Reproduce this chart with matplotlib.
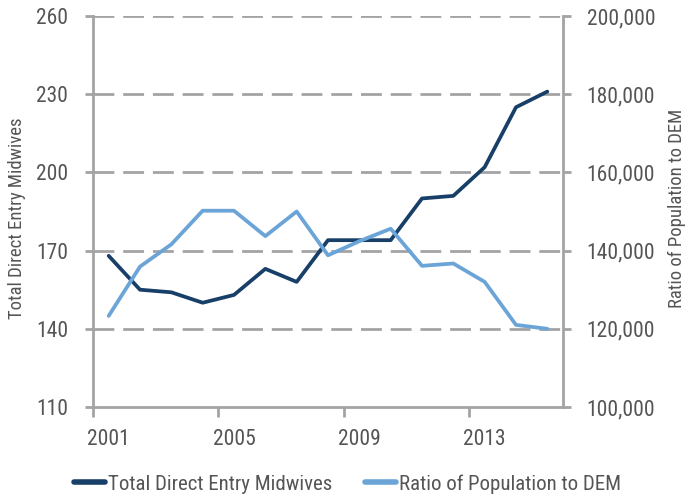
import matplotlib
matplotlib.use("Agg")
import matplotlib.pyplot as plt
from matplotlib import font_manager
from matplotlib.ticker import FuncFormatter, FixedLocator

years = [2001, 2002, 2003, 2004, 2005, 2006, 2007, 2008, 2009, 2010, 2011, 2012, 2013, 2014, 2015]
midwives = [168, 155, 154, 150, 153, 163, 158, 174, 174, 174, 190, 191, 202, 225, 231]
ratio = [123300, 135900, 141600, 150200, 150200, 143700, 150000, 138800, 142400, 145600,
         136100, 136700, 132000, 121000, 120000]
left_ticks = [110, 140, 170, 200, 230, 260]
right_ticks = [100000, 120000, 140000, 160000, 180000, 200000]
label_years = [2001, 2005, 2009, 2013]

names = {f.name for f in font_manager.fontManager.ttflist}
fam = None
for cand in ["Roboto Condensed", "Liberation Sans Narrow", "Open Sans Condensed", "Noto Sans Condensed"]:
    if cand in names:
        fam = cand
        break
if fam is None:
    fam = "DejaVu Sans"
    plt.rcParams['font.stretch'] = 'condensed'
plt.rcParams['font.family'] = [fam, 'DejaVu Sans']

dark = "#173f68"
light = "#6ba4d6"
gray = "#a3a3a6"
txt = "#555555"

fig = plt.figure(figsize=(6.88, 4.99), dpi=100)
ax = fig.add_axes([93/688, 1-407/499, (563-93)/688, (407-16)/499])
ax2 = ax.twinx()

x = list(range(len(years)))
l1, = ax.plot(x, midwives, color=dark, lw=2.7, solid_capstyle='round', solid_joinstyle='round', zorder=3)
l2, = ax2.plot(x, ratio, color=light, lw=2.7, solid_capstyle='round', solid_joinstyle='round', zorder=3)

ax.set_xlim(-0.5, len(years) - 0.5)
ax.set_ylim(110, 260)
ax2.set_ylim(100000, 200000)
ax.set_yticks(left_ticks)
ax2.set_yticks(right_ticks)
ax2.yaxis.set_major_formatter(FuncFormatter(lambda v, p: f"{int(v):,}"))

for v in left_ticks[1:]:
    ax.axhline(v, color=gray, lw=2.0, dashes=(7.5, 3.2), zorder=1)

ax.xaxis.set_major_locator(FixedLocator([-0.5, 3.5, 7.5, 11.5]))
ax.xaxis.set_major_formatter(FuncFormatter(lambda v, p: ""))
ax.xaxis.set_minor_locator(FixedLocator([years.index(y) for y in label_years]))
ax.xaxis.set_minor_formatter(FuncFormatter(lambda v, p: str(years[int(round(v))])))
ax.tick_params(axis='x', which='major', length=7, width=2, color=gray, direction='out')
ax.tick_params(axis='x', which='minor', length=0, pad=16, labelsize=15.5, labelcolor=txt)
ax.tick_params(axis='y', length=6, width=2, color=gray, labelsize=15.5, labelcolor=txt, pad=12)
ax2.tick_params(axis='y', length=6, width=2, color=gray, labelsize=15.5, labelcolor=txt, pad=11)

for a in (ax, ax2):
    for s in a.spines.values():
        s.set_visible(False)
ax.spines['left'].set_visible(True)
ax.spines['bottom'].set_visible(True)
ax2.spines['right'].set_visible(True)
ax.spines['left'].set_color(gray); ax.spines['left'].set_linewidth(2)
ax.spines['bottom'].set_color(gray); ax.spines['bottom'].set_linewidth(2)
ax2.spines['right'].set_color(gray); ax2.spines['right'].set_linewidth(2)

ax.set_ylabel("Total Direct Entry Midwives", fontsize=13.5, color=txt)
ax2.set_ylabel("Ratio of Population to DEM", fontsize=13.5, color=txt)
ax.yaxis.set_label_coords(-0.143, 0.483)
ax2.yaxis.set_label_coords(1.223, 0.509)

fig.legend([l1, l2], ["Total Direct Entry Midwives", "Ratio of Population to DEM"],
           loc='center', bbox_to_anchor=(0.505, 1 - 484/499), ncol=2, frameon=False,
           fontsize=15, labelcolor=txt, handlelength=1.5, handletextpad=0.15,
           columnspacing=1.55, borderpad=0)
for h in fig.legends[0].legend_handles:
    h.set_linewidth(4)
    h.set_solid_capstyle('round')

fig.savefig("out.png", dpi=100)
